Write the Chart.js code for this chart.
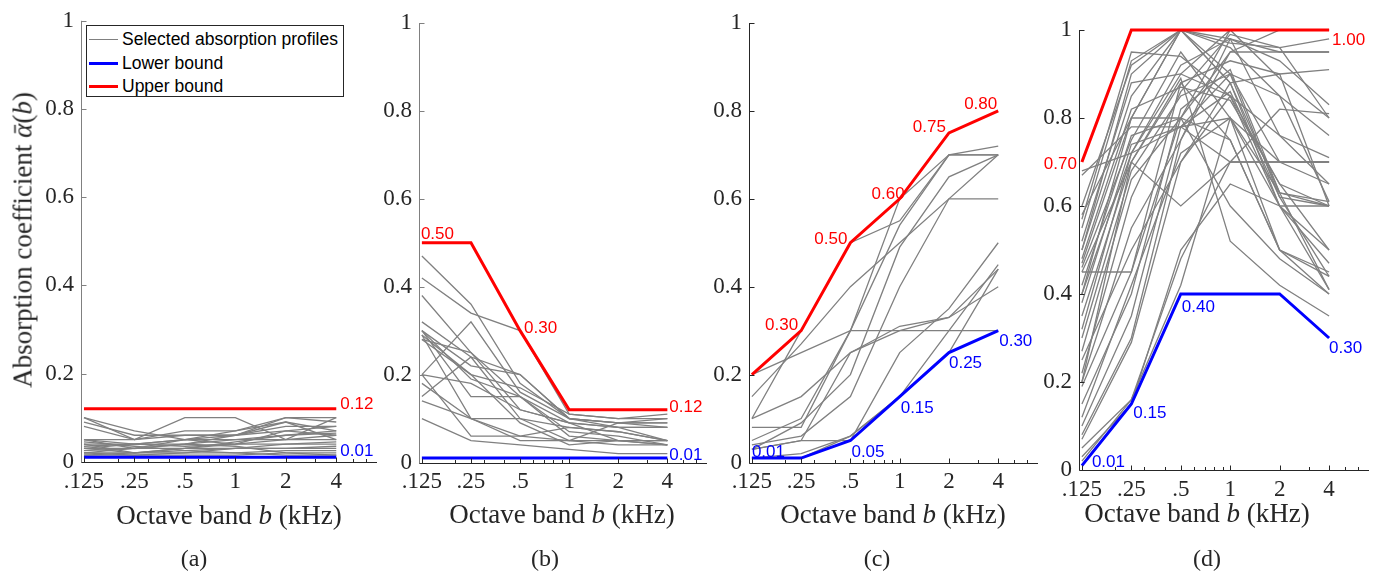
<!DOCTYPE html>
<html>
<head>
<meta charset="utf-8">
<script src="https://cdn.jsdelivr.net/npm/chart.js@4"></script>
<style>
    body { margin: 0; background: #fff; }
    #fig { position: relative; width: 1378px; height: 573px; overflow: hidden; font-family: 'Liberation Serif', serif; color: #262626; }
    #fig canvas { position: absolute; left: 0; top: 0; }
    .txt { position: absolute; transform: translate(-50%, -50%); white-space: nowrap; line-height: 1; }
    .xtitle { font-size: 27px; }
    .caption { font-size: 24px; }
    .ytitle { font-size: 27px; transform: translate(-50%, -50%) rotate(-90deg); }
    .legend { position: absolute; left: 86px; top: 25px; width: 258px; height: 72px; border: 1px solid #262626; background: #fff;
              box-sizing: border-box; font-family: 'Liberation Sans', Arial, sans-serif; font-size: 17.5px; color: #000; z-index: 5; }
    .legend .row { position: absolute; left: 2px; height: 20px; margin-top: -10px; display: flex; align-items: center; }
    .legend .swatch { width: 29px; margin-right: 4px; }
</style>
</head>
<body>
<div id="fig">
    <div class="txt ytitle" style="left:23px; top:240px;">Absorption coefficient <i>ᾱ</i>(<i>b</i>)</div>
    <div class="txt xtitle" style="left:229px; top:515px;">Octave band <i>b</i> (kHz)</div>
    <div class="txt xtitle" style="left:562px; top:514px;">Octave band <i>b</i> (kHz)</div>
    <div class="txt xtitle" style="left:893px; top:514px;">Octave band <i>b</i> (kHz)</div>
    <div class="txt xtitle" style="left:1197px; top:513px;">Octave band <i>b</i> (kHz)</div>
    <div class="txt caption" style="left:194px; top:558px;">(a)</div>
    <div class="txt caption" style="left:545px; top:558px;">(b)</div>
    <div class="txt caption" style="left:877px; top:558px;">(c)</div>
    <div class="txt caption" style="left:1207px; top:558px;">(d)</div>
    <div class="legend">
        <div class="row" style="top:13px;"><span class="swatch" style="border-top:1.3px solid #808080;"></span>Selected absorption profiles</div>
        <div class="row" style="top:37px;"><span class="swatch" style="border-top:3px solid #0000ff;"></span>Lower bound</div>
        <div class="row" style="top:60px;"><span class="swatch" style="border-top:3px solid #ff0000;"></span>Upper bound</div>
    </div>
</div>
<script>
const BANDS = [0.125, 0.25, 0.5, 1, 2, 4];
const BAND_LABELS = ['.125', '.25', '.5', '1', '2', '4'];
const MINOR_TICKS = [0.2, 0.3, 0.4, 0.6, 0.7, 0.8, 0.9, 3, 5, 6];
const Y_TICKS = [0, 0.2, 0.4, 0.6, 0.8, 1];
const Y_TICK_LABELS = ['0', '0.2', '0.4', '0.6', '0.8', '1'];

const LOWER_A = [0.01, 0.01, 0.01, 0.01, 0.01, 0.01];
const UPPER_A = [0.12, 0.12, 0.12, 0.12, 0.12, 0.12];
const LOWER_B = [0.01, 0.01, 0.01, 0.01, 0.01, 0.01];
const UPPER_B = [0.50, 0.50, 0.30, 0.12, 0.12, 0.12];
const LOWER_C = [0.01, 0.01, 0.05, 0.15, 0.25, 0.30];
const UPPER_C = [0.20, 0.30, 0.50, 0.60, 0.75, 0.80];
const LOWER_D = [0.01, 0.15, 0.40, 0.40, 0.40, 0.30];
const UPPER_D = [0.70, 1.00, 1.00, 1.00, 1.00, 1.00];

const PROFILES_A = [
    [0.08, 0.05, 0.10, 0.10, 0.05, 0.10],
    [0.10, 0.05, 0.07, 0.07, 0.10, 0.09],
    [0.10, 0.07, 0.05, 0.07, 0.09, 0.05],
    [0.09, 0.06, 0.06, 0.06, 0.10, 0.10],
    [0.05, 0.05, 0.06, 0.06, 0.08, 0.08],
    [0.05, 0.03, 0.04, 0.06, 0.09, 0.07],
    [0.04, 0.04, 0.05, 0.05, 0.06, 0.065],
    [0.04, 0.02, 0.03, 0.04, 0.07, 0.06],
    [0.035, 0.04, 0.04, 0.05, 0.05, 0.05],
    [0.03, 0.03, 0.05, 0.04, 0.04, 0.045],
    [0.03, 0.02, 0.02, 0.03, 0.04, 0.04],
    [0.025, 0.03, 0.03, 0.03, 0.03, 0.035],
    [0.02, 0.02, 0.025, 0.03, 0.03, 0.03],
    [0.02, 0.015, 0.02, 0.02, 0.025, 0.025],
    [0.015, 0.02, 0.03, 0.045, 0.06, 0.07],
    [0.015, 0.015, 0.015, 0.015, 0.02, 0.02],
    [0.02, 0.03, 0.04, 0.035, 0.02, 0.015],
    [0.045, 0.035, 0.025, 0.02, 0.015, 0.015],
    [0.03, 0.04, 0.05, 0.06, 0.07, 0.08],
    [0.05, 0.04, 0.035, 0.04, 0.05, 0.06]
];

const PROFILES_B = [
    [0.47, 0.36, 0.18, 0.10, 0.08, 0.05],
    [0.42, 0.34, 0.30, 0.11, 0.10, 0.11],
    [0.38, 0.25, 0.12, 0.09, 0.05, 0.04],
    [0.32, 0.24, 0.20, 0.10, 0.09, 0.08],
    [0.30, 0.22, 0.20, 0.10, 0.09, 0.09],
    [0.30, 0.15, 0.15, 0.09, 0.08, 0.08],
    [0.29, 0.20, 0.17, 0.11, 0.10, 0.10],
    [0.29, 0.10, 0.10, 0.08, 0.07, 0.05],
    [0.28, 0.25, 0.15, 0.06, 0.05, 0.05],
    [0.30, 0.19, 0.15, 0.07, 0.06, 0.04],
    [0.20, 0.32, 0.16, 0.10, 0.09, 0.09],
    [0.20, 0.18, 0.12, 0.09, 0.08, 0.08],
    [0.18, 0.10, 0.05, 0.05, 0.04, 0.04],
    [0.15, 0.24, 0.10, 0.05, 0.05, 0.04],
    [0.14, 0.10, 0.06, 0.05, 0.09, 0.10],
    [0.10, 0.05, 0.04, 0.03, 0.02, 0.02],
    [0.20, 0.06, 0.06, 0.08, 0.07, 0.05],
    [0.28, 0.20, 0.09, 0.04, 0.05, 0.05]
];

const PROFILES_C = [
    [0.20, 0.25, 0.30, 0.30, 0.30, 0.30],
    [0.15, 0.27, 0.40, 0.50, 0.60, 0.60],
    [0.10, 0.30, 0.50, 0.55, 0.70, 0.70],
    [0.10, 0.15, 0.25, 0.30, 0.33, 0.44],
    [0.08, 0.08, 0.30, 0.60, 0.70, 0.70],
    [0.05, 0.10, 0.30, 0.54, 0.70, 0.72],
    [0.03, 0.09, 0.20, 0.49, 0.65, 0.70],
    [0.04, 0.06, 0.15, 0.40, 0.60, 0.70],
    [0.03, 0.05, 0.05, 0.25, 0.35, 0.50],
    [0.01, 0.02, 0.06, 0.15, 0.30, 0.45],
    [0.01, 0.01, 0.06, 0.15, 0.25, 0.44],
    [0.03, 0.05, 0.25, 0.31, 0.33, 0.40]
];

const PROFILES_D = [
    [0.68, 0.72, 0.78, 0.80, 0.70, 0.70],
    [0.67, 0.78, 0.78, 0.70, 0.70, 0.70],
    [0.57, 0.95, 0.94, 0.85, 0.65, 0.60],
    [0.55, 0.93, 1.00, 0.90, 0.62, 0.60],
    [0.50, 0.90, 1.00, 0.98, 0.95, 0.95],
    [0.50, 0.85, 1.00, 0.97, 0.96, 0.98],
    [0.47, 0.80, 1.00, 0.88, 0.63, 0.61],
    [0.46, 0.75, 0.95, 0.80, 0.60, 0.60],
    [0.45, 0.45, 0.80, 1.00, 1.00, 1.00],
    [0.45, 0.70, 0.60, 0.70, 0.70, 0.70],
    [0.40, 0.72, 0.90, 0.85, 0.60, 0.50],
    [0.35, 0.70, 0.88, 0.75, 0.50, 0.45],
    [0.30, 0.68, 0.85, 0.90, 0.70, 0.65],
    [0.27, 0.66, 0.80, 0.60, 0.48, 0.40],
    [0.20, 0.70, 0.89, 0.52, 0.42, 0.35],
    [0.20, 0.55, 0.75, 0.95, 0.95, 0.95],
    [0.19, 0.45, 0.88, 0.93, 0.90, 0.91],
    [0.15, 0.40, 0.82, 0.91, 0.63, 0.60],
    [0.10, 0.35, 0.78, 0.90, 0.85, 0.76],
    [0.08, 0.30, 0.75, 0.98, 0.93, 0.83],
    [0.07, 0.29, 0.70, 0.85, 0.76, 0.65],
    [0.05, 0.16, 0.48, 0.70, 0.82, 0.81],
    [0.03, 0.15, 0.50, 0.65, 0.60, 0.47],
    [0.02, 0.16, 0.42, 0.80, 0.50, 0.44],
    [0.60, 0.92, 1.00, 0.88, 0.60, 0.41],
    [0.52, 0.88, 0.90, 1.00, 0.89, 0.80],
    [0.48, 0.82, 0.87, 0.84, 0.65, 0.50],
    [0.42, 0.76, 0.80, 0.95, 1.00, 1.00],
    [0.38, 0.74, 0.78, 0.86, 0.62, 0.44],
    [0.32, 0.72, 0.92, 0.98, 0.76, 0.71],
    [0.25, 0.50, 0.70, 0.88, 0.90, 0.60],
    [0.12, 0.42, 0.72, 0.80, 0.63, 0.41],
    [0.22, 0.62, 0.86, 0.99, 0.96, 0.80],
    [0.58, 0.80, 0.80, 0.75, 0.50, 0.40],
    [0.40, 0.80, 1.00, 0.96, 0.85, 0.61]
];

const FIG_W = 1378;
const FIG_H = 573;
const Y_W = 60;
const X_H = 40;
const RED = '#ff0000';
const BLUE = '#0000ff';
const GRAY = '#808080';
const DARK = '#262626';

// where each bound value is written next to its line
const PANELS = [
    {
        lower: LOWER_A, upper: UPPER_A, profiles: PROFILES_A,
        area: { left: 81, right: 377, top: 17.5, bottom: 461.7 }, yAxisColor: GRAY,
        notes: [
            { bound: 'upper', i: 5, align: 'left', dx: 4, dy: -4 },
            { bound: 'lower', i: 5, align: 'left', dx: 4, dy: -6 }
        ]
    },
    {
        lower: LOWER_B, upper: UPPER_B, profiles: PROFILES_B,
        area: { left: 419, right: 707, top: 23, bottom: 462.5 }, yAxisColor: GRAY,
        notes: [
            { bound: 'upper', i: 0, align: 'left', dx: -1, dy: -8 },
            { bound: 'upper', i: 2, align: 'left', dx: 4, dy: -2 },
            { bound: 'upper', i: 5, align: 'left', dx: 2, dy: -2 },
            { bound: 'lower', i: 5, align: 'left', dx: 2, dy: -3 }
        ]
    },
    {
        lower: LOWER_C, upper: UPPER_C, profiles: PROFILES_C,
        area: { left: 749, right: 1038, top: 23, bottom: 462.5 }, yAxisColor: DARK,
        notes: [
            { bound: 'upper', i: 1, align: 'right', dx: -3, dy: -5 },
            { bound: 'upper', i: 2, align: 'right', dx: -3, dy: -3 },
            { bound: 'upper', i: 3, align: 'right', dx: 5, dy: -4 },
            { bound: 'upper', i: 4, align: 'right', dx: -3, dy: -6 },
            { bound: 'upper', i: 5, align: 'right', dx: -1, dy: -7 },
            { bound: 'lower', i: 0, align: 'left', dx: 0, dy: -6 },
            { bound: 'lower', i: 2, align: 'left', dx: 1, dy: 12 },
            { bound: 'lower', i: 3, align: 'left', dx: 1, dy: 12 },
            { bound: 'lower', i: 4, align: 'left', dx: 0, dy: 11 },
            { bound: 'lower', i: 5, align: 'left', dx: 1, dy: 11 }
        ]
    },
    {
        lower: LOWER_D, upper: UPPER_D, profiles: PROFILES_D,
        area: { left: 1079, right: 1369, top: 30, bottom: 470 }, yAxisColor: DARK,
        notes: [
            { bound: 'upper', i: 0, align: 'right', dx: -5, dy: 2 },
            { bound: 'upper', i: 5, align: 'left', dx: 3, dy: 10 },
            { bound: 'lower', i: 0, align: 'left', dx: 10, dy: -3 },
            { bound: 'lower', i: 1, align: 'left', dx: 2, dy: 9 },
            { bound: 'lower', i: 2, align: 'left', dx: 1, dy: 13 },
            { bound: 'lower', i: 5, align: 'left', dx: 0, dy: 10 }
        ]
    }
];

function axesPlugin(panel) {
    return {
        id: 'matlabAxes',
        afterDatasetsDraw(chart) {
            const { ctx, chartArea: a, scales: { x, y } } = chart;
            const left = Math.round(a.left) + 0.5;
            const bottom = Math.round(a.bottom) + 0.5;
            ctx.save();
            ctx.lineWidth = 1;

            ctx.strokeStyle = panel.yAxisColor;
            ctx.beginPath();
            ctx.moveTo(left, a.top);
            ctx.lineTo(left, bottom);
            Y_TICKS.forEach(v => {
                const py = Math.round(y.getPixelForValue(v)) + 0.5;
                ctx.moveTo(left, py);
                ctx.lineTo(left + 5, py);
            });
            ctx.stroke();

            ctx.strokeStyle = DARK;
            ctx.beginPath();
            ctx.moveTo(left, bottom);
            ctx.lineTo(a.right, bottom);
            BANDS.forEach(v => {
                const px = Math.round(x.getPixelForValue(v)) + 0.5;
                ctx.moveTo(px, bottom);
                ctx.lineTo(px, bottom - 5);
            });
            MINOR_TICKS.forEach(v => {
                const px = Math.round(x.getPixelForValue(v)) + 0.5;
                ctx.moveTo(px, bottom);
                ctx.lineTo(px, bottom - 3.5);
            });
            ctx.stroke();
            ctx.restore();
        }
    };
}

function notesPlugin(panel) {
    return {
        id: 'boundNotes',
        afterDatasetsDraw(chart) {
            const { ctx, scales: { x, y } } = chart;
            ctx.save();
            ctx.font = '17px "Liberation Sans", Arial, sans-serif';
            ctx.textBaseline = 'middle';
            panel.notes.forEach(n => {
                const vals = n.bound === 'upper' ? panel.upper : panel.lower;
                ctx.fillStyle = n.bound === 'upper' ? RED : BLUE;
                ctx.textAlign = n.align;
                ctx.fillText(vals[n.i].toFixed(2),
                    x.getPixelForValue(BANDS[n.i]) + n.dx,
                    y.getPixelForValue(vals[n.i]) + n.dy);
            });
            ctx.restore();
        }
    };
}

function buildChart(panel) {
    const fig = document.getElementById('fig');
    const canvas = document.createElement('canvas');
    canvas.width = FIG_W;
    canvas.height = FIG_H;
    canvas.style.width = FIG_W + 'px';
    canvas.style.height = FIG_H + 'px';
    fig.insertBefore(canvas, fig.firstChild);

    const toPoints = vals => vals.map((v, i) => ({ x: BANDS[i], y: v }));
    const datasets = [
        { label: 'Upper bound', data: toPoints(panel.upper), borderColor: RED, borderWidth: 3 },
        { label: 'Lower bound', data: toPoints(panel.lower), borderColor: BLUE, borderWidth: 3 },
        ...panel.profiles.map(p => ({
            label: 'Selected absorption profiles', data: toPoints(p), borderColor: GRAY, borderWidth: 1.3
        }))
    ];

    const a = panel.area;
    const tickFont = { family: "'Liberation Serif', serif", size: 23 };

    return new Chart(canvas.getContext('2d'), {
        type: 'line',
        data: { datasets },
        options: {
            responsive: false,
            animation: false,
            devicePixelRatio: 1,
            layout: {
                autoPadding: false,
                padding: {
                    left: a.left - Y_W,
                    right: FIG_W - a.right,
                    top: a.top,
                    bottom: FIG_H - a.bottom - X_H
                }
            },
            elements: {
                point: { radius: 0, hoverRadius: 0 },
                line: { tension: 0, fill: false, borderJoinStyle: 'miter', borderCapStyle: 'butt' }
            },
            datasets: { line: { clip: false } },
            plugins: {
                legend: { display: false },
                tooltip: { enabled: false }
            },
            scales: {
                x: {
                    type: 'logarithmic',
                    min: 0.12,
                    max: 7,
                    afterBuildTicks: s => { s.ticks = BANDS.map(v => ({ value: v })); },
                    afterFit: s => { s.height = X_H; },
                    grid: { display: false, drawTicks: false },
                    border: { display: false },
                    ticks: {
                        autoSkip: false,
                        maxRotation: 0,
                        padding: 6,
                        color: DARK,
                        font: tickFont,
                        callback: (v, i) => BAND_LABELS[i]
                    }
                },
                y: {
                    type: 'linear',
                    min: 0,
                    max: 1,
                    afterBuildTicks: s => { s.ticks = Y_TICKS.map(v => ({ value: v })); },
                    afterFit: s => { s.width = Y_W; },
                    grid: { display: false, drawTicks: false },
                    border: { display: false },
                    ticks: {
                        padding: 7,
                        color: DARK,
                        font: tickFont,
                        callback: (v, i) => Y_TICK_LABELS[i]
                    }
                }
            }
        },
        plugins: [axesPlugin(panel), notesPlugin(panel)]
    });
}

PANELS.forEach(buildChart);
</script>
</body>
</html>
